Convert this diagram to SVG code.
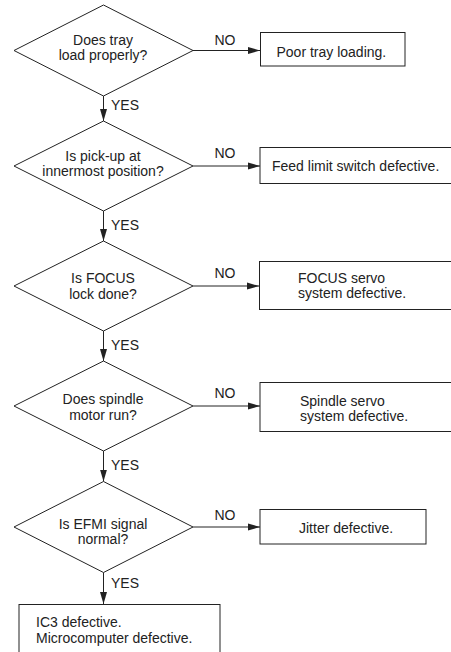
<svg xmlns="http://www.w3.org/2000/svg" width="451" height="652" viewBox="0 0 451 652">
<style>
.s{fill:#fff;stroke:#222;stroke-width:1}
.t{font-family:"Liberation Sans",Arial,sans-serif;font-size:14px;fill:#222}
.c{text-anchor:middle}
.l{stroke:#222;stroke-width:1;fill:none}
</style>
<defs>
<marker id="ah" markerUnits="userSpaceOnUse" markerWidth="12" markerHeight="8" refX="12" refY="4" orient="auto">
<path d="M0,0.5 L12,4 L0,7.5 Z" fill="#222"/>
</marker>
</defs>
<rect width="451" height="652" fill="#fff"/>
<g id="connectors">
<path class="l" d="M193,50.5 H260" marker-end="url(#ah)"/>
<path class="l" d="M193,166 H260" marker-end="url(#ah)"/>
<path class="l" d="M193,286 H259" marker-end="url(#ah)"/>
<path class="l" d="M193,406 H260" marker-end="url(#ah)"/>
<path class="l" d="M193,527 H260" marker-end="url(#ah)"/>
<path class="l" d="M103.5,96 V121" marker-end="url(#ah)"/>
<path class="l" d="M103.5,211 V241" marker-end="url(#ah)"/>
<path class="l" d="M103.5,331 V361" marker-end="url(#ah)"/>
<path class="l" d="M103.5,451 V481.5" marker-end="url(#ah)"/>
<path class="l" d="M103.5,572.5 V604" marker-end="url(#ah)"/>
<text class="t c" x="225" y="45">NO</text>
<text class="t c" x="225" y="158">NO</text>
<text class="t c" x="225" y="278">NO</text>
<text class="t c" x="225" y="398">NO</text>
<text class="t c" x="225" y="520">NO</text>
<text class="t" x="111" y="110">YES</text>
<text class="t" x="111" y="230">YES</text>
<text class="t" x="111" y="350">YES</text>
<text class="t" x="111" y="470">YES</text>
<text class="t" x="111" y="588">YES</text>
</g>
<g id="d1">
<polygon class="s" points="103.5,5 193,50.5 103.5,96 14,50.5"/>
<text class="t c" x="103" y="45">Does tray</text>
<text class="t c" x="103" y="60">load properly?</text>
</g>
<g id="b1">
<rect class="s" x="260.5" y="32.5" width="144.5" height="33.5"/>
<text class="t" x="276.5" y="56.5">Poor tray loading.</text>
</g>
<g id="d2">
<polygon class="s" points="103.5,121 193,166 103.5,211 14,166"/>
<text class="t c" x="103" y="160.5">Is pick-up at</text>
<text class="t c" x="103" y="176">innermost position?</text>
</g>
<g id="b2">
<rect class="s" x="260" y="147.5" width="200" height="36"/>
<text class="t" x="272" y="171">Feed limit switch defective.</text>
</g>
<g id="d3">
<polygon class="s" points="103.5,241 193,286 103.5,331 14,286"/>
<text class="t c" x="103" y="283">Is FOCUS</text>
<text class="t c" x="103" y="298.5">lock done?</text>
</g>
<g id="b3">
<rect class="s" x="259.5" y="261.5" width="200" height="48"/>
<text class="t" x="298" y="282.5">FOCUS servo</text>
<text class="t" x="298" y="298">system defective.</text>
</g>
<g id="d4">
<polygon class="s" points="103.5,361 193,406 103.5,451 14,406"/>
<text class="t c" x="103" y="404">Does spindle</text>
<text class="t c" x="103" y="420">motor run?</text>
</g>
<g id="b4">
<rect class="s" x="260" y="382.5" width="200" height="49"/>
<text class="t" x="300" y="405.5">Spindle servo</text>
<text class="t" x="300" y="421">system defective.</text>
</g>
<g id="d5">
<polygon class="s" points="103.5,481.5 193,527 103.5,572.5 14,527"/>
<text class="t c" x="103" y="529">Is EFMI signal</text>
<text class="t c" x="103" y="544">normal?</text>
</g>
<g id="b5">
<rect class="s" x="260" y="509.5" width="166" height="34.5"/>
<text class="t" x="299" y="533">Jitter defective.</text>
</g>
<g id="b6">
<rect class="s" x="19" y="604.5" width="201" height="60"/>
<text class="t" x="36" y="627">IC3 defective.</text>
<text class="t" x="36" y="643">Microcomputer defective.</text>
</g>
</svg>
